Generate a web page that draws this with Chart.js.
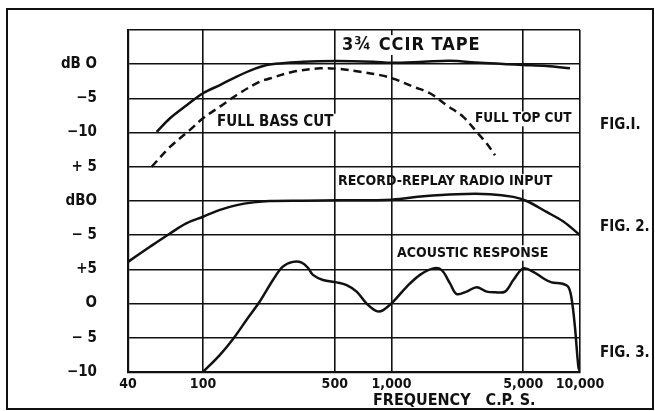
<!DOCTYPE html>
<html>
<head>
<meta charset="utf-8">
<script src="https://cdn.jsdelivr.net/npm/chart.js@4/dist/chart.umd.min.js"></script>
<style>
  html, body { margin: 0; padding: 0; background: #fff; }
  #wrap { width: 655px; height: 411px; position: relative; }
</style>
</head>
<body>
<div id="wrap"><canvas id="c" width="655" height="411"></canvas></div>
<script>
// ---- Data (frequency in c.p.s., level in dB) ----
// Fig. 1 : 3 3/4 CCIR tape
const tapeFreq = [56.8, 66.8, 81.9, 100, 123, 151, 185, 226, 340, 512, 800, 1000, 1476, 2043, 2947, 4085, 5000, 6650, 8850];
const tapeDb   = [-9.9, -7.9, -6.0, -4.25, -3.05, -1.8, -0.75, -0.05, 0.35, 0.45, 0.35, 0.2, 0.35, 0.5, 0.2, 0.0, -0.1, -0.25, -0.6];
// Fig. 1 : full bass cut / full top cut (dashed)
const cutFreq = [53.4, 66.8, 85.3, 100, 123, 151, 200, 226, 301, 418, 533, 681, 870, 1020, 1306, 1600, 1960, 2403, 2830, 3200, 3540];
const cutDb   = [-15.0, -12.1, -9.6, -7.9, -6.2, -4.5, -2.55, -2.1, -1.1, -0.6, -0.7, -1.1, -1.6, -2.1, -3.3, -4.25, -6.0, -7.7, -9.9, -11.6, -13.3];
// Fig. 2 : record-replay radio input
const radioFreq = [40, 52.3, 66.8, 81.9, 100, 123, 151, 185, 226, 340, 533, 1000, 1476, 2215, 3330, 4430, 5210, 6650, 8160, 10000];
const radioDb   = [-8.9, -6.7, -4.75, -3.25, -2.3, -1.3, -0.6, -0.2, 0.0, 0.05, 0.1, 0.2, 0.7, 1.0, 1.0, 0.6, 0.0, -1.6, -3.0, -5.0];
// Fig. 3 : acoustic response
const acFreq = [100, 123, 145, 170, 200, 235, 265, 300, 334, 361, 383, 433, 512, 578, 653, 738, 834, 904, 1022, 1203, 1416, 1667, 1846, 2043, 2215, 2500, 2830, 3200, 3540, 4000, 4430, 5000, 5650, 6380, 7070, 7980, 8660, 9020, 9400, 9800, 10000];
const acDb   = [-10, -7.5, -5.1, -2.4, 0.3, 3.45, 5.4, 6.1, 6.0, 5.2, 4.2, 3.45, 3.1, 2.7, 1.75, 0.0, -1.1, -0.95, 0.3, 2.45, 4.2, 5.15, 4.9, 2.95, 1.4, 1.75, 2.4, 1.75, 1.65, 1.75, 3.45, 5.15, 4.65, 3.7, 3.1, 2.95, 2.45, 0.75, -3.4, -9.2, -10];

// Frequency axis ticks
const xTicks = [40, 100, 500, 1000, 5000, 10000];
const xTickLabels = ['40', '100', '500', '1,000', '5,000', '10,000'];
// Stacked level axis: one row per 5 dB, bottom row first
const yTickLabels = ['\u221210', '\u2212 5', 'O', '+5', '\u2212 5', 'dBO', '+ 5', '\u221210', '\u22125', 'dB O', ''];
// Row of each figure's 0 dB line
const tapeZeroRow = 9, radioZeroRow = 5, acZeroRow = 2;
const dbPerRow = 5;

// Captions
const captions = [
  { text: '3\u00BE CCIR TAPE', f: 546, row: 9.56, size: 18, spacing: 1 },
  { text: 'FULL BASS CUT', f: 118.7, row: 7.31, size: 15, spacing: 0 },
  { text: 'FULL TOP CUT', f: 2773, row: 7.4, size: 13.5, spacing: 0 },
  { text: 'RECORD-REPLAY RADIO INPUT', f: 520, row: 5.56, size: 14, spacing: 0, bgFrom: 1030 },
  { text: 'ACOUSTIC RESPONSE', f: 1069, row: 3.48, size: 14, spacing: 0 }
];
const figLabels = [
  { text: 'FIG.I.', row: 7.22 },
  { text: 'FIG. 2.', row: 4.24 },
  { text: 'FIG. 3.', row: 0.56 }
];
const xTitle = 'FREQUENCY   C.P. S.';

const FONT = '"DejaVu Sans Condensed", "DejaVu Sans", sans-serif';

function toPoints(freqs, dbs, zeroRow) {
  return freqs.map((f, i) => ({ x: f, y: zeroRow + dbs[i] / dbPerRow }));
}

const decor = {
  id: 'decor',
  beforeDraw(chart) {
    const ctx = chart.ctx;
    ctx.save();
    ctx.fillStyle = '#fff';
    ctx.fillRect(0, 0, chart.width, chart.height);
    ctx.strokeStyle = '#111';
    ctx.lineWidth = 2;
    ctx.strokeRect(7, 9, 646, 400);
    ctx.restore();
  },
  beforeDatasetsDraw(chart) {
    const ctx = chart.ctx, xs = chart.scales.x, ys = chart.scales.y;
    ctx.save();
    ctx.fillStyle = '#fff';
    captions.forEach(c => {
      ctx.font = 'bold ' + c.size + 'px ' + FONT;
      ctx.letterSpacing = c.spacing + 'px';
      const w = ctx.measureText(c.text).width;
      let x0 = xs.getPixelForValue(c.f) - 3;
      const x1 = xs.getPixelForValue(c.f) + w + 3;
      if (c.bgFrom) x0 = xs.getPixelForValue(c.bgFrom);
      const yc = ys.getPixelForValue(c.row);
      ctx.fillRect(x0, yc - c.size * 0.55, x1 - x0, c.size * 1.1);
    });
    ctx.restore();
  },
  afterDraw(chart) {
    const ctx = chart.ctx, xs = chart.scales.x, ys = chart.scales.y, ca = chart.chartArea;
    ctx.save();
    ctx.fillStyle = '#111';
    ctx.textBaseline = 'middle';
    ctx.textAlign = 'left';
    captions.forEach(c => {
      ctx.font = 'bold ' + c.size + 'px ' + FONT;
      ctx.letterSpacing = c.spacing + 'px';
      ctx.fillText(c.text, xs.getPixelForValue(c.f), ys.getPixelForValue(c.row));
    });
    ctx.letterSpacing = '0px';
    ctx.font = 'bold 15px ' + FONT;
    figLabels.forEach(l => {
      ctx.fillText(l.text, ca.right + 20, ys.getPixelForValue(l.row));
    });
    ctx.font = 'bold 16px ' + FONT;
    ctx.fillText(xTitle, 373, 401);
    ctx.restore();
  }
};

const lineStyle = { borderColor: '#111', borderWidth: 2.5, pointRadius: 0, fill: false, tension: 0.35 };

new Chart(document.getElementById('c'), {
  type: 'line',
  data: {
    datasets: [
      Object.assign({ label: '3 3/4 CCIR tape', data: toPoints(tapeFreq, tapeDb, tapeZeroRow) }, lineStyle),
      Object.assign({ label: 'Full bass cut / full top cut', data: toPoints(cutFreq, cutDb, tapeZeroRow), borderDash: [8, 5] }, lineStyle),
      Object.assign({ label: 'Record-replay radio input', data: toPoints(radioFreq, radioDb, radioZeroRow) }, lineStyle),
      Object.assign({ label: 'Acoustic response', data: toPoints(acFreq, acDb, acZeroRow) }, lineStyle)
    ]
  },
  options: {
    responsive: false,
    devicePixelRatio: 1,
    animation: false,
    layout: { padding: { top: 30, right: 75, bottom: 0, left: 0 } },
    plugins: { legend: { display: false }, tooltip: { enabled: false } },
    scales: {
      x: {
        type: 'logarithmic',
        min: 40, max: 10000,
        afterBuildTicks: s => { s.ticks = xTicks.map(v => ({ value: v })); },
        afterFit: s => { s.height = 39; s.paddingLeft = 0; s.paddingRight = 0; },
        grid: { color: '#111', lineWidth: 1.6, drawTicks: false },
        border: { color: '#111', width: 2.2 },
        ticks: {
          padding: 4, color: '#111', maxRotation: 0, autoSkip: false,
          font: { family: FONT, weight: 'bold', size: 14 },
          callback: (v, i) => xTickLabels[i]
        }
      },
      y: {
        type: 'linear',
        min: 0, max: 10,
        afterBuildTicks: s => { s.ticks = yTickLabels.map((t, i) => ({ value: i })); },
        afterFit: s => { s.width = 128; s.paddingTop = 0; s.paddingBottom = 0; },
        grid: { color: '#111', lineWidth: 1.6, drawTicks: false },
        border: { color: '#111', width: 2.2 },
        ticks: {
          padding: 31, color: '#111',
          font: { family: FONT, weight: 'bold', size: 15 },
          callback: (v, i) => yTickLabels[i]
        }
      }
    }
  },
  plugins: [decor]
});
</script>
</body>
</html>
